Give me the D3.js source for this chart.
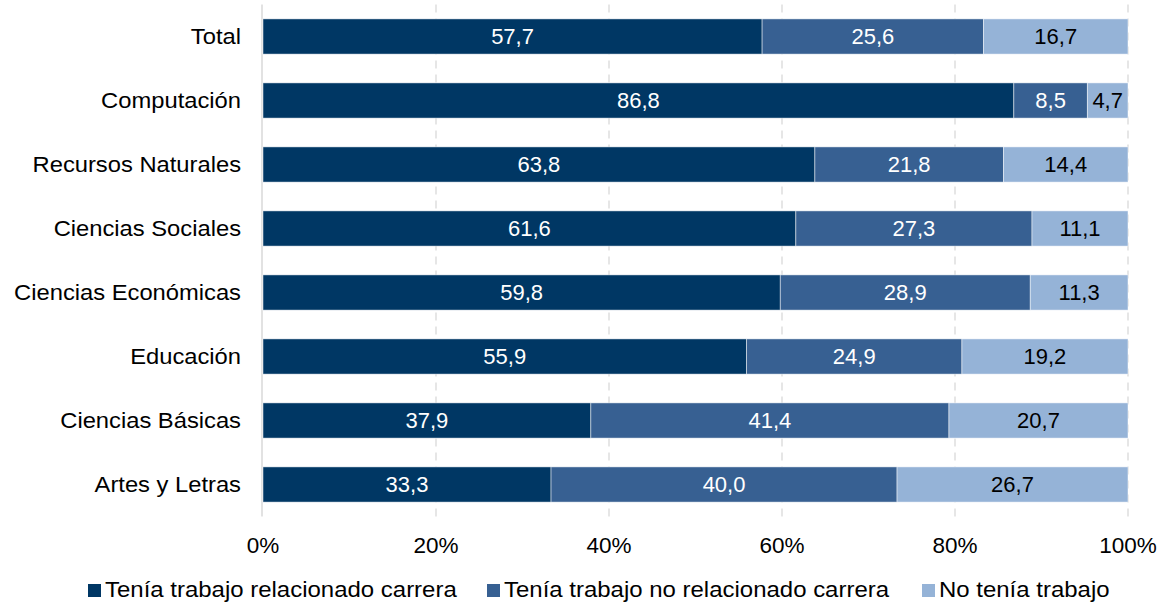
<!DOCTYPE html>
<html lang="es">
<head>
<meta charset="utf-8">
<title>Situación laboral por área</title>
<script src="https://cdn.jsdelivr.net/npm/d3@7"></script>
<style>
html, body { margin: 0; padding: 0; background: #fff; }
svg { display: block; font-family: "Liberation Sans", Arial, sans-serif; }
.grid line { stroke: #d9d9d9; stroke-dasharray: 8,6; stroke-width: 1.3; }
</style>
</head>
<body>
<svg id="chart" width="1166" height="605"></svg>
<script>
// datos
var categorias = ["Total", "Computación", "Recursos Naturales", "Ciencias Sociales",
  "Ciencias Económicas", "Educación", "Ciencias Básicas", "Artes y Letras"];
var relacionado    = [57.7, 86.8, 63.8, 61.6, 59.8, 55.9, 37.9, 33.3];
var noRelacionado  = [25.6, 8.5, 21.8, 27.3, 28.9, 24.9, 41.4, 40.0];
var sinTrabajo     = [16.7, 4.7, 14.4, 11.1, 11.3, 19.2, 20.7, 26.7];
var series = ["Tenía trabajo relacionado carrera", "Tenía trabajo no relacionado carrera", "No tenía trabajo"];
var ticks = [0, 20, 40, 60, 80, 100];

var colores = ["#003764", "#376092", "#95b3d7"];
var colorTexto = ["#fff", "#fff", "#000"];

var svg = d3.select("#chart");
var x = d3.scaleLinear().domain([0, 100]).range([263, 1128]);
var y = d3.scaleBand().domain(categorias).range([4.5, 516.5]).paddingInner(0.45).paddingOuter(0.225);

// lineas de cuadricula
svg.append("g").attr("class", "grid")
  .selectAll("line").data(ticks.slice(1)).enter().append("line")
  .attr("x1", d => x(d)).attr("x2", d => x(d))
  .attr("y1", 4.5).attr("y2", 516.5);

// eje vertical
svg.append("line")
  .attr("x1", x(0) - 1).attr("x2", x(0) - 1)
  .attr("y1", 4.5).attr("y2", 516.5)
  .attr("stroke", "#d9d9d9").attr("stroke-width", 1.5);

// apilar
var filas = categorias.map(function(c, i) {
  return { cat: c, v: [relacionado[i], noRelacionado[i], sinTrabajo[i]] };
});

filas.forEach(function(f) {
  var acum = 0;
  f.v.forEach(function(val, s) {
    var x0 = acum, x1 = acum + val;
    acum = x1;
    svg.append("rect")
      .attr("x", x(x0)).attr("width", x(x1) - x(x0))
      .attr("y", y(f.cat)).attr("height", y.bandwidth())
      .attr("fill", colores[s])
      .attr("stroke", "#ffffff").attr("stroke-opacity", 0.6).attr("stroke-width", 0.8);
    svg.append("text")
      .attr("x", (x(x0) + x(x1)) / 2)
      .attr("y", y(f.cat) + y.bandwidth() / 2)
      .attr("dy", "0.36em")
      .attr("text-anchor", "middle")
      .attr("font-size", 22)
      .attr("fill", colorTexto[s])
      .text(val.toFixed(1).replace(".", ","));
  });
});

// etiquetas de categoria (un poco ensanchadas como en el original)
svg.append("g").selectAll("text").data(categorias).enter().append("text")
  .attr("transform", d => "translate(241," + (y(d) + y.bandwidth() / 2) + ") scale(1.08,1)")
  .attr("dy", "0.36em")
  .attr("text-anchor", "end")
  .attr("font-size", 22)
  .attr("fill", "#000")
  .text(d => d);

// eje x
svg.append("g").selectAll("text").data(ticks).enter().append("text")
  .attr("x", d => x(d))
  .attr("y", 545)
  .attr("dy", "0.36em")
  .attr("text-anchor", "middle")
  .attr("font-size", 22.5)
  .attr("fill", "#000")
  .text(d => d + "%");

// leyenda
var legX = [88, 487, 922];
var leg = svg.append("g").selectAll("g").data(series).enter().append("g")
  .attr("transform", (d, i) => "translate(" + legX[i] + ",589.5)");
leg.append("rect").attr("x", 0).attr("y", -5.5).attr("width", 13).attr("height", 13)
  .attr("fill", (d, i) => colores[i]);
leg.append("text").attr("transform", "translate(17,0) scale(1.09,1)").attr("dy", "0.36em")
  .attr("font-size", 22).attr("fill", "#000").text(d => d);
</script>
</body>
</html>
